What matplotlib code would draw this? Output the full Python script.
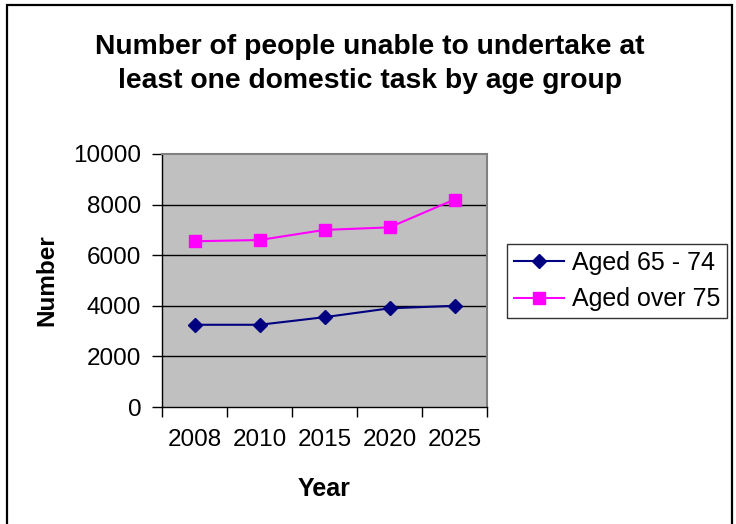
"""
Number of people unable to undertake at least one domestic task, by age group.
Excel-style line chart, grey plot area, legend on the right.
"""
import numpy as np
import matplotlib.pyplot as plt
from matplotlib.patches import Rectangle

plt.rcParams['font.family'] = ['Liberation Sans', 'DejaVu Sans']

# data
years = ['2008', '2010', '2015', '2020', '2025']
aged_65_74 = [3250, 3250, 3550, 3900, 4000]
aged_over_75 = [6550, 6600, 7000, 7100, 8200]
yticks = [0, 2000, 4000, 6000, 8000, 10000]

W, H = 736, 524
fig = plt.figure(figsize=(W/100, H/100), dpi=100)

# outer black border (bottom edge runs off the picture)
fig.patches.append(Rectangle((7/W, -0.02), (732-7)/W, 1.02 - 5/H, transform=fig.transFigure,
                             fill=False, edgecolor='black', lw=1.6, clip_on=False))

# plot area in pixels: x 162..487, y 154..407
ax = fig.add_axes([162/W, 1 - 407/H, (487-162)/W, (407-154)/H])
ax.set_facecolor('#C0C0C0')

x = np.arange(len(years)) + 0.5
ax.plot(x, aged_65_74, color='#000080', marker='D', ms=7.5, lw=1.5, label='Aged 65 - 74')
ax.plot(x, aged_over_75, color='#FF00FF', marker='s', ms=8, lw=1.5, label='Aged over 75')

ax.set_xlim(0, len(years))
ax.set_ylim(0, 10000)
ax.set_yticks(yticks)
ax.set_yticklabels([str(v) for v in yticks], fontsize=17.5)
ax.set_xticks(np.arange(len(years) + 1))
ax.set_xticklabels([])
ax.set_xticks(x, minor=True)
ax.set_xticklabels(years, minor=True, fontsize=17.5)
ax.tick_params(axis='x', which='minor', length=0, pad=16)
ax.tick_params(axis='x', which='major', length=7, width=1, color='black', direction='out')
ax.tick_params(axis='y', length=7, width=1, color='black', direction='out', pad=8)

for v in yticks[1:-1]:
    ax.axhline(v, color='black', lw=1, zorder=1)

for s in ['top', 'right']:
    ax.spines[s].set_color('#808080')
    ax.spines[s].set_linewidth(1.5)
for s in ['left', 'bottom']:
    ax.spines[s].set_color('black')
    ax.spines[s].set_linewidth(1)

ax.set_xlabel('Year', fontsize=18, fontweight='bold', labelpad=18.5)
ax.set_ylabel('Number', fontsize=17.5, fontweight='bold', labelpad=11)

fig.text(370/W, 1 - 64/H, 'Number of people unable to undertake at\nleast one domestic task by age group',
         ha='center', va='center', fontsize=20.3, fontweight='bold', linespacing=1.44)

leg = ax.legend(loc='center left', bbox_to_anchor=(507/W, 1 - 281/H), bbox_transform=fig.transFigure,
                fontsize=18, frameon=True, fancybox=False, edgecolor='black',
                handlelength=2.0, handletextpad=0.32, borderpad=0.28, labelspacing=0.5,
                borderaxespad=0)
leg.get_frame().set_linewidth(1)

plt.savefig('out.png', dpi=100)
